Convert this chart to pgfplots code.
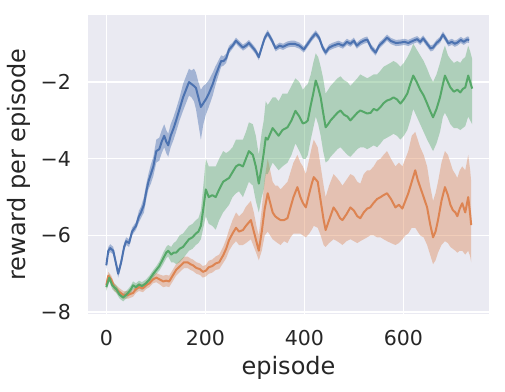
\documentclass[border=0pt]{standalone}
\usepackage{fontspec}
\setmainfont{DejaVu Sans}
\usepackage{pgfplots}
\usepackage{pgfplotstable}
\pgfplotsset{compat=1.18}
\usepgfplotslibrary{fillbetween}

\definecolor{bgc}{HTML}{EAEAF2}
\definecolor{cblue}{HTML}{4C72B0}
\definecolor{corange}{HTML}{DD8452}
\definecolor{cgreen}{HTML}{55A868}

% x mean lower upper
\pgfplotstableread{
x m lo hi
0 -6.78 -6.88 -6.68
4 -6.40 -6.50 -6.30
8 -6.33 -6.43 -6.23
14 -6.40 -6.50 -6.30
19 -6.70 -6.80 -6.60
24 -7.00 -7.10 -6.90
30 -6.70 -6.80 -6.60
36 -6.30 -6.40 -6.20
40 -6.15 -6.25 -6.05
46 -6.20 -6.30 -6.10
52 -5.90 -6.00 -5.80
60 -5.75 -5.85 -5.65
66 -5.50 -5.65 -5.35
70 -5.40 -5.55 -5.25
76 -5.20 -5.40 -5.00
80 -4.90 -5.10 -4.70
85 -4.60 -4.80 -4.40
90 -4.40 -4.65 -4.15
95 -4.20 -4.45 -3.95
101 -3.80 -4.10 -3.50
107 -3.75 -4.05 -3.45
112 -3.55 -3.85 -3.25
117 -3.40 -3.70 -3.10
121 -3.55 -3.85 -3.25
125 -3.65 -3.95 -3.35
130 -3.40 -3.70 -3.10
136 -3.20 -3.50 -2.90
141 -3.00 -3.30 -2.70
148 -2.70 -3.00 -2.40
155 -2.40 -2.75 -2.05
161 -2.20 -2.55 -1.85
167 -2.00 -2.35 -1.65
172 -2.05 -2.40 -1.70
177 -2.10 -2.50 -1.65
181 -2.15 -2.70 -1.75
186 -2.40 -3.10 -2.00
191 -2.65 -3.50 -2.20
196 -2.55 -3.10 -2.10
201 -2.45 -2.85 -2.05
207 -2.30 -2.65 -1.95
215 -2.05 -2.35 -1.75
220 -1.85 -2.10 -1.60
226 -1.65 -1.85 -1.45
232 -1.45 -1.60 -1.30
237 -1.45 -1.57 -1.33
242 -1.38 -1.50 -1.26
248 -1.15 -1.25 -1.05
255 -1.05 -1.13 -0.97
262 -0.92 -1.00 -0.84
268 -1.00 -1.08 -0.92
276 -1.10 -1.18 -1.02
282 -1.05 -1.13 -0.97
288 -0.98 -1.06 -0.90
296 -1.10 -1.18 -1.02
302 -1.20 -1.28 -1.12
308 -1.35 -1.43 -1.27
315 -1.05 -1.13 -0.97
320 -0.85 -0.93 -0.77
326 -0.72 -0.80 -0.64
334 -0.90 -0.98 -0.82
342 -1.12 -1.20 -1.04
350 -1.05 -1.13 -0.97
357 -1.08 -1.16 -1.00
366 -1.02 -1.10 -0.94
373 -1.00 -1.08 -0.92
380 -1.00 -1.08 -0.92
390 -1.05 -1.13 -0.97
399 -1.15 -1.23 -1.07
407 -1.00 -1.08 -0.92
415 -0.85 -0.93 -0.77
423 -0.73 -0.81 -0.65
430 -0.85 -0.93 -0.77
437 -1.10 -1.18 -1.02
443 -1.23 -1.31 -1.15
450 -1.10 -1.18 -1.02
458 -1.05 -1.13 -0.97
469 -1.00 -1.08 -0.92
478 -1.05 -1.13 -0.97
486 -0.95 -1.03 -0.87
493 -1.00 -1.08 -0.92
500 -0.92 -1.00 -0.84
506 -1.05 -1.13 -0.97
513 -0.97 -1.05 -0.89
520 -0.92 -1.00 -0.84
527 -0.89 -0.97 -0.81
535 -1.10 -1.18 -1.02
544 -1.23 -1.31 -1.15
551 -1.05 -1.13 -0.97
559 -0.95 -1.03 -0.87
567 -0.84 -0.92 -0.76
575 -0.93 -1.01 -0.85
585 -0.98 -1.06 -0.90
594 -0.97 -1.05 -0.89
602 -0.95 -1.03 -0.87
610 -0.98 -1.06 -0.90
620 -0.92 -1.00 -0.84
628 -0.88 -0.96 -0.80
634 -0.95 -1.03 -0.87
640 -0.86 -0.94 -0.78
648 -1.00 -1.08 -0.92
655 -1.12 -1.20 -1.04
660 -1.10 -1.18 -1.02
667 -0.98 -1.06 -0.90
674 -0.90 -0.98 -0.82
680 -0.76 -0.84 -0.68
686 -0.88 -0.96 -0.80
691 -0.99 -1.07 -0.91
698 -0.95 -1.03 -0.87
704 -1.00 -1.08 -0.92
709 -0.97 -1.05 -0.89
716 -0.90 -0.98 -0.82
722 -0.95 -1.03 -0.87
729 -0.89 -0.97 -0.81
733 -0.90 -0.98 -0.82
}\blueData

\pgfplotstableread{
x m lo hi
0 -7.30 -7.40 -7.20
4 -7.05 -7.15 -6.95
10 -7.15 -7.25 -7.05
16 -7.35 -7.45 -7.25
24 -7.45 -7.55 -7.35
34 -7.55 -7.65 -7.45
44 -7.55 -7.65 -7.45
54 -7.50 -7.60 -7.40
60 -7.40 -7.50 -7.30
66 -7.35 -7.45 -7.25
74 -7.38 -7.48 -7.28
80 -7.30 -7.40 -7.20
87 -7.25 -7.35 -7.15
94 -7.15 -7.25 -7.05
101 -7.10 -7.22 -6.98
108 -7.15 -7.28 -7.02
115 -7.20 -7.35 -7.05
121 -7.18 -7.33 -7.03
127 -7.20 -7.35 -7.05
134 -7.05 -7.20 -6.90
141 -6.90 -7.05 -6.75
149 -6.80 -6.95 -6.65
157 -6.70 -6.85 -6.55
164 -6.70 -6.85 -6.55
170 -6.75 -6.90 -6.60
175 -6.78 -6.93 -6.63
182 -6.85 -7.00 -6.70
189 -6.88 -7.03 -6.73
195 -6.95 -7.10 -6.80
201 -6.92 -7.07 -6.77
207 -6.83 -7.00 -6.66
214 -6.80 -6.97 -6.63
221 -6.73 -6.90 -6.55
228 -6.70 -6.88 -6.50
236 -6.52 -6.72 -6.30
242 -6.35 -6.60 -6.10
248 -6.12 -6.40 -5.85
255 -5.95 -6.25 -5.60
262 -5.80 -6.15 -5.40
268 -5.90 -6.25 -5.50
276 -5.86 -6.25 -5.40
282 -5.75 -6.20 -5.25
292 -5.60 -6.10 -5.10
298 -5.90 -6.30 -5.40
304 -6.20 -6.50 -5.80
308 -6.40 -6.65 -6.00
314 -5.90 -6.40 -5.30
320 -5.30 -6.00 -4.50
326 -4.90 -5.90 -4.00
331 -5.15 -6.00 -4.30
336 -5.40 -6.10 -4.60
341 -5.50 -6.15 -4.70
346 -5.55 -6.20 -4.70
352 -5.60 -6.25 -4.80
359 -5.60 -6.15 -4.70
366 -5.55 -6.20 -4.60
372 -5.27 -6.05 -4.35
378 -5.00 -5.95 -4.10
386 -4.74 -5.95 -3.90
392 -5.00 -5.95 -4.10
397 -5.15 -6.00 -4.20
403 -5.27 -6.05 -4.40
410 -4.90 -5.95 -4.00
415 -4.65 -5.85 -3.70
419 -4.48 -5.75 -3.50
427 -4.60 -5.80 -3.70
433 -5.10 -6.00 -4.20
439 -5.60 -6.25 -4.70
443 -5.86 -6.30 -5.00
450 -5.60 -6.20 -4.70
459 -5.27 -6.10 -4.40
466 -5.40 -6.15 -4.50
472 -5.55 -6.20 -4.60
477 -5.60 -6.25 -4.70
485 -5.45 -6.15 -4.55
493 -5.27 -6.10 -4.40
500 -5.35 -6.15 -4.45
507 -5.50 -6.20 -4.60
513 -5.55 -6.15 -4.65
520 -5.40 -6.10 -4.40
527 -5.30 -6.05 -4.30
533 -5.27 -6.00 -4.30
540 -5.15 -6.00 -4.20
547 -5.05 -6.05 -4.05
554 -5.00 -6.05 -4.00
560 -4.95 -6.10 -3.90
567 -4.90 -6.15 -3.80
575 -5.05 -6.20 -4.00
584 -5.27 -6.25 -4.20
591 -5.20 -6.20 -4.10
598 -5.30 -6.10 -4.20
604 -5.10 -6.00 -4.00
610 -4.90 -5.95 -3.80
617 -4.60 -5.80 -3.40
624 -4.30 -5.80 -3.30
629 -4.55 -5.90 -3.50
634 -4.74 -6.00 -3.70
641 -5.00 -6.05 -3.90
648 -5.27 -6.25 -4.20
654 -5.70 -6.50 -4.70
660 -6.05 -6.75 -5.10
665 -5.90 -6.65 -4.90
670 -5.60 -6.45 -4.60
677 -5.10 -6.25 -4.10
684 -4.74 -6.15 -3.80
690 -4.95 -6.20 -3.90
695 -5.20 -6.30 -4.10
700 -5.34 -6.35 -4.30
705 -5.40 -6.40 -4.40
709 -5.50 -6.45 -4.50
714 -5.30 -6.40 -4.30
719 -5.16 -6.40 -4.20
725 -5.40 -6.50 -4.30
731 -5.00 -6.40 -3.90
735 -5.45 -6.55 -4.30
737 -5.73 -6.70 -4.60
}\orangeData

\pgfplotstableread{
x m lo hi
0 -7.35 -7.45 -7.25
6 -7.10 -7.20 -7.00
12 -7.30 -7.40 -7.20
20 -7.40 -7.50 -7.30
27 -7.55 -7.65 -7.45
34 -7.62 -7.72 -7.52
40 -7.55 -7.65 -7.45
44 -7.50 -7.60 -7.40
50 -7.40 -7.50 -7.30
54 -7.30 -7.40 -7.20
60 -7.35 -7.45 -7.25
66 -7.28 -7.38 -7.18
72 -7.32 -7.42 -7.22
80 -7.25 -7.35 -7.15
87 -7.15 -7.25 -7.05
95 -7.00 -7.10 -6.90
101 -6.90 -7.00 -6.80
107 -6.80 -6.92 -6.68
115 -6.60 -6.75 -6.45
121 -6.45 -6.60 -6.30
125 -6.40 -6.55 -6.25
131 -6.50 -6.70 -6.30
136 -6.45 -6.70 -6.20
141 -6.45 -6.75 -6.15
148 -6.35 -6.70 -6.00
155 -6.30 -6.60 -5.95
161 -6.20 -6.50 -5.85
167 -6.10 -6.40 -5.75
174 -6.05 -6.35 -5.70
181 -5.95 -6.25 -5.60
186 -5.90 -6.20 -5.55
191 -5.75 -6.10 -5.35
196 -5.30 -5.80 -4.70
201 -4.80 -5.50 -4.00
207 -5.00 -5.70 -4.20
214 -4.95 -5.75 -4.20
221 -5.00 -5.85 -4.20
228 -4.80 -5.60 -4.00
236 -4.60 -5.40 -3.80
242 -4.55 -5.30 -3.85
248 -4.50 -5.20 -3.80
255 -4.35 -5.00 -3.70
262 -4.20 -4.90 -3.50
268 -4.15 -4.85 -3.50
276 -4.20 -5.00 -3.50
282 -4.00 -4.80 -3.30
288 -3.80 -4.60 -3.05
296 -3.90 -4.70 -3.10
302 -4.20 -5.10 -3.40
308 -4.65 -5.40 -3.90
314 -4.20 -5.00 -3.30
318 -3.85 -4.80 -3.00
322 -3.45 -4.40 -2.50
326 -3.50 -4.40 -2.60
336 -3.20 -4.10 -2.40
342 -3.30 -4.20 -2.40
348 -3.40 -4.30 -2.50
356 -3.25 -4.20 -2.30
366 -3.18 -4.10 -2.30
374 -3.00 -3.90 -2.10
382 -2.75 -3.60 -1.90
390 -2.90 -3.80 -2.00
397 -3.08 -4.00 -2.20
403 -3.05 -4.00 -2.10
407 -3.00 -3.90 -2.05
413 -2.60 -3.50 -1.80
418 -2.30 -3.20 -1.50
423 -1.96 -2.90 -1.25
428 -2.15 -3.10 -1.35
433 -2.40 -3.40 -1.60
438 -2.80 -3.80 -1.90
443 -3.18 -4.10 -2.30
448 -3.10 -4.05 -2.20
453 -3.00 -3.95 -2.10
460 -2.90 -3.85 -2.00
467 -2.80 -3.75 -1.90
473 -2.74 -3.70 -1.85
480 -2.85 -3.80 -1.95
487 -2.90 -3.90 -2.00
493 -3.00 -3.95 -2.10
500 -2.90 -3.85 -2.00
507 -2.80 -3.75 -1.90
513 -2.74 -3.70 -1.80
520 -2.78 -3.70 -1.85
527 -2.82 -3.75 -1.90
534 -2.80 -3.70 -1.85
540 -2.70 -3.65 -1.80
547 -2.74 -3.70 -1.80
554 -2.65 -3.60 -1.70
560 -2.55 -3.50 -1.60
567 -2.48 -3.45 -1.55
574 -2.45 -3.40 -1.50
580 -2.40 -3.35 -1.45
587 -2.45 -3.40 -1.50
594 -2.56 -3.50 -1.60
601 -2.45 -3.40 -1.50
608 -2.30 -3.25 -1.35
614 -2.05 -3.00 -1.20
620 -1.83 -2.70 -1.00
627 -2.00 -2.90 -1.15
634 -2.20 -3.10 -1.30
641 -2.35 -3.30 -1.45
648 -2.56 -3.50 -1.65
654 -2.75 -3.65 -1.85
660 -2.92 -3.80 -2.00
667 -2.70 -3.60 -1.80
674 -2.40 -3.30 -1.50
680 -2.05 -2.90 -1.20
684 -1.83 -2.80 -1.05
690 -2.00 -2.95 -1.30
695 -2.14 -3.10 -1.40
702 -2.25 -3.20 -1.50
709 -2.20 -3.20 -1.45
715 -2.27 -3.25 -1.50
720 -2.18 -3.20 -1.40
725 -2.14 -3.15 -1.35
731 -1.83 -2.90 -1.05
735 -2.00 -3.00 -1.20
739 -2.17 -3.10 -1.40
}\greenData

\begin{document}
\begin{tikzpicture}
\begin{axis}[
    width=401bp, height=299bp, scale only axis,
    xmin=-37, xmax=773, ymin=-8.05, ymax=-0.25,
    axis background/.style={fill=bgc},
    axis line style={draw=none},
    tick style={draw=none},
    grid=major,
    major grid style={white, line width=1.2bp},
    xtick={0,200,400,600},
    xticklabels={0,200,400,600},
    ytick={-8,-6,-4,-2},
    yticklabels={−8,−6,−4,−2},
    ticklabel style={font=\fontsize{20.5bp}{24bp}\selectfont, text=black!85, inner sep=0pt},
    xticklabel style={anchor=north, yshift=-16bp},
    yticklabel style={anchor=east, xshift=-17bp},
    xlabel={episode},
    ylabel={reward per episode},
    label style={font=\fontsize{24bp}{28bp}\selectfont, text=black!85},
    xlabel style={at={(axis description cs:0.5,-0.204)}, anchor=base},
    ylabel style={at={(axis description cs:-0.157,0.5)}, anchor=base},
    clip=true,
]
% blue
\addplot[draw=none, name path=bu, forget plot] table[x=x, y=hi] {\blueData};
\addplot[draw=none, name path=bl, forget plot] table[x=x, y=lo] {\blueData};
\addplot[fill=cblue, fill opacity=0.45, draw=none] fill between[of=bu and bl];
\addplot[cblue, line width=2bp, line join=round] table[x=x, y=m] {\blueData};
% orange
\addplot[draw=none, name path=ou, forget plot] table[x=x, y=hi] {\orangeData};
\addplot[draw=none, name path=ol, forget plot] table[x=x, y=lo] {\orangeData};
\addplot[fill=corange, fill opacity=0.4, draw=none] fill between[of=ou and ol];
\addplot[corange, line width=2bp, line join=round] table[x=x, y=m] {\orangeData};
% green
\addplot[draw=none, name path=gu, forget plot] table[x=x, y=hi] {\greenData};
\addplot[draw=none, name path=gl, forget plot] table[x=x, y=lo] {\greenData};
\addplot[fill=cgreen, fill opacity=0.4, draw=none] fill between[of=gu and gl];
\addplot[cgreen, line width=2bp, line join=round] table[x=x, y=m] {\greenData};
\end{axis}
\path (current axis.south west) ++(-88bp,-78bp) rectangle ([xshift=16bp,yshift=15bp]current axis.north east);
\end{tikzpicture}
\end{document}
